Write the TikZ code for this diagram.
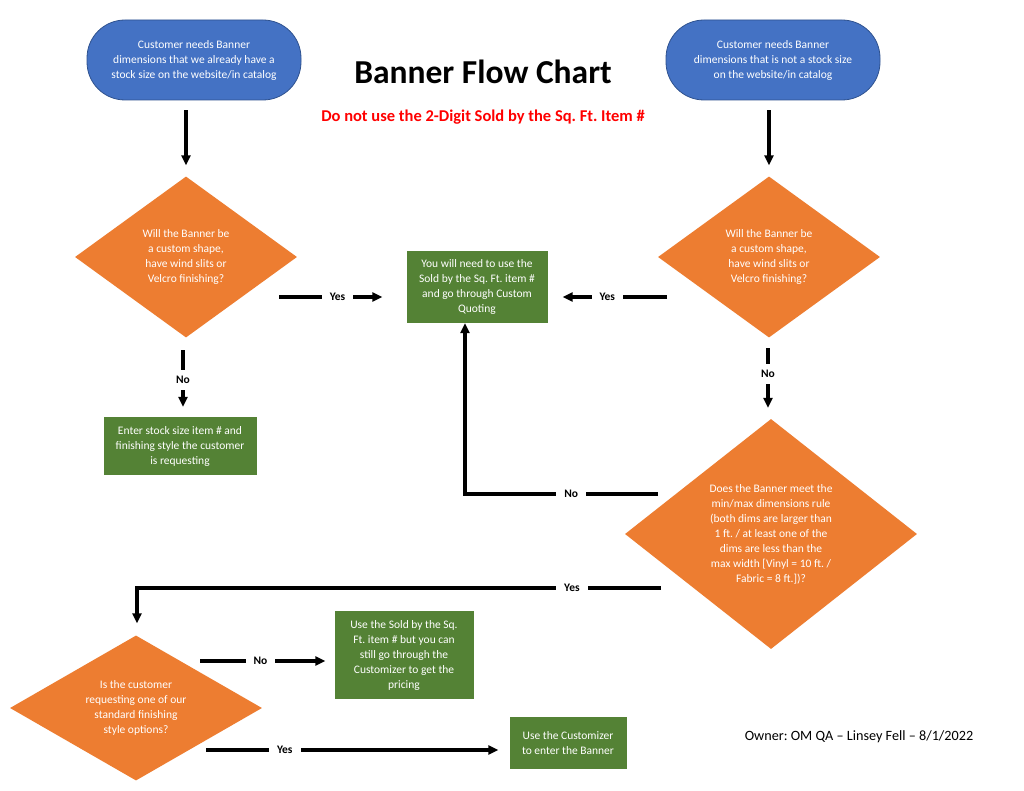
\documentclass[tikz,border=0pt]{standalone}
\usepackage{fontspec}
\setmainfont{Carlito}
\usetikzlibrary{positioning, shapes, shapes.geometric, arrows.meta}
\definecolor{officeblue}{HTML}{4472C4}
\definecolor{officeblueedge}{HTML}{2F528F}
\definecolor{officeorange}{HTML}{ED7D31}
\definecolor{officegreen}{HTML}{548235}
\frenchspacing

\begin{document}
\begin{tikzpicture}[
  x=1pt, y=-1pt,
  every node/.style={
    text=white,
    align=center,
    inner sep=0pt,
    font=\fontsize{11.5}{15}\selectfont
  },
  terminal/.style={
    fill=officeblue,
    draw=officeblueedge,
    line width=0.8pt,
    rounded corners=38pt,
    minimum width=214pt,
    minimum height=80pt
  },
  decision/.style={
    diamond,
    aspect=1.4,
    fill=officeorange,
    minimum width=222pt,
    minimum height=161pt
  },
  action/.style={
    fill=officegreen,
    minimum width=141pt,
    minimum height=72pt
  },
  flow/.style={
    line width=3.2pt,
    -{Triangle[length=10pt,width=9pt]}
  },
  lbl/.style={
    text=black,
    fill=white,
    inner xsep=8pt,
    inner ysep=6pt,
    font=\fontsize{11.5}{13}\selectfont\bfseries
  },
]

\fill[white] (0,0) rectangle (1024,791);
\useasboundingbox (0,0) rectangle (1024,791);

% headings
\node[text=black, font=\fontsize{33.5}{38}\selectfont\bfseries] (title) at (483,72) {Banner Flow Chart};
\node[text=red, font=\fontsize{16.5}{19}\selectfont\bfseries] (warn) at (483,117) {Do not use the 2-Digit Sold by the Sq. Ft. Item \#};
\node[text=black, font=\fontsize{14.2}{17}\selectfont] (owner) at (859,737) {Owner: OM QA -- Linsey Fell -- 8/1/2022};

% shapes
\node[terminal] (stock) at (194,60) {Customer needs Banner\\dimensions that we already have a\\stock size on the website/in catalog};
\node[terminal] (custom) at (773,60) {Customer needs Banner\\dimensions that is not a stock size\\on the website/in catalog};

\node[decision] (shapeL) at (186,257) {Will the Banner be\\a custom shape,\\have wind slits or\\Velcro finishing?};
\node[decision] (shapeR) at (769,257) {Will the Banner be\\a custom shape,\\have wind slits or\\Velcro finishing?};

\node[action] (quote) at (477,287) {You will need to use the\\Sold by the Sq. Ft. item \#\\and go through Custom\\Quoting};
\node[action, minimum width=153pt, minimum height=58pt] (enter) at (180,446) {Enter stock size item \# and\\finishing style the customer\\is requesting};

\node[decision, minimum width=292pt, minimum height=230pt] (minmax) at (771,534) {Does the Banner meet the\\min/max dimensions rule\\(both dims are larger than\\1 ft. / at least one of the\\dims are less than the\\max width [Vinyl = 10 ft. /\\Fabric = 8 ft.])?};

\node[decision, aspect=1.8, minimum width=252pt, minimum height=145pt] (finish) at (136,708) {Is the customer\\requesting one of our\\standard finishing\\style options?};

\node[action, minimum width=139pt, minimum height=88pt] (sqft) at (404,655) {Use the Sold by the Sq.\\Ft. item \# but you can\\still go through the\\Customizer to get the\\pricing};
\node[action, minimum width=117pt, minimum height=52pt] (customizer) at (568,743) {Use the Customizer\\to enter the Banner};

% free ends of the connectors
\coordinate (yesL) at (279,297);
\coordinate (yesR) at (667,297);
\coordinate (noL) at (183,350);
\coordinate (noR) at (768,348);
\coordinate (noM) at (658,494);
\coordinate (noMc) at (465,494);
\coordinate (yesM) at (661,588);
\coordinate (yesMc) at (137,588);
\coordinate (noF) at (200,661);
\coordinate (yesF) at (206,750);

% connectors
\draw[flow, shorten <=10pt, shorten >=11pt] (stock.south -| shapeL) -- (shapeL.north);
\draw[flow, shorten <=10pt, shorten >=11pt] (custom.south -| shapeR) -- (shapeR.north);

\draw[flow, shorten >=24pt] (yesL) -- node[lbl, pos=.46] {Yes} (quote.west |- yesL);
\draw[flow, shorten >=15pt] (yesR) -- node[lbl, pos=.5] {Yes} (quote.east |- yesR);

\draw[flow, shorten >=10pt] (noL) -- node[lbl, pos=.45] {No} (enter.north -| noL);
\draw[flow, shorten >=11pt] (noR) -- node[lbl, pos=.37] {No} (minmax.north -| noR);

\draw[flow] (noM) -- node[lbl, pos=.45] {No} (noMc) -- (quote.south -| noMc);
\draw[flow, shorten >=12pt] (yesM) -- node[lbl, pos=.17] {Yes} (yesMc) -- (finish.north -| yesMc);

\draw[flow, shorten >=9pt] (noF) -- node[lbl, pos=.45] {No} (sqft.west |- noF);
\draw[flow, shorten >=11pt] (yesF) -- node[lbl, pos=.26] {Yes} (customizer.west |- yesF);

\end{tikzpicture}
\end{document}
